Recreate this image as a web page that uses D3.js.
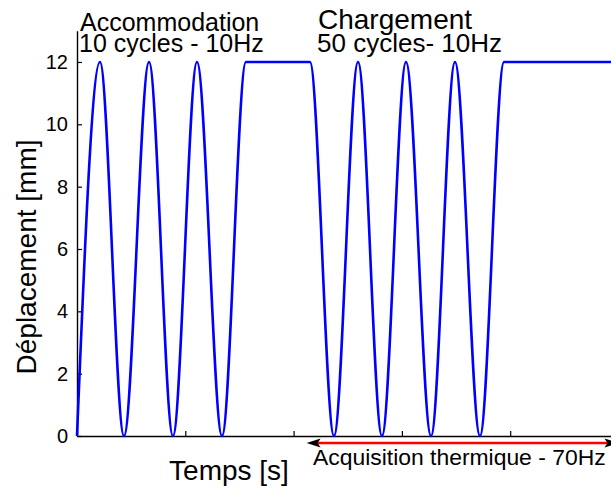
<!DOCTYPE html>
<html><head><meta charset="utf-8">
<script src="https://cdn.jsdelivr.net/npm/d3@7"></script>
<style>body{margin:0;background:#fff}svg{display:block}text{font-family:"Liberation Sans",Arial,sans-serif;fill:#000}</style>
</head><body>
<script>
// Key points of the displacement signal (time in axis units, displacement in mm)
const times = [0, 0.212, 0.434, 0.665, 0.886, 1.108, 1.339, 1.560, 2.151, 2.373, 2.595, 2.816, 3.038, 3.269, 3.490, 3.721, 3.943, 5.3];
const displacement = [0, 12, 0, 12, 0, 12, 0, 12, 12, 0, 12, 0, 12, 0, 12, 0, 12, 12];
const xTicks = [0, 1, 2, 3, 4, 5];
const yTicks = [0, 2, 4, 6, 8, 10, 12];
const arrowSpan = [2.12, 5.0];

const W = 611, H = 490;
const svg = d3.select("body").append("svg").attr("width", W).attr("height", H);
const x = d3.scaleLinear().domain([0, 5]).range([77, 618.5]);
const y = d3.scaleLinear().domain([0, 13]).range([436, 30.8]);

// axes
const yAxis = svg.append("g").attr("transform", "translate(77,0)")
  .call(d3.axisLeft(y).tickValues(yTicks).tickSizeInner(-5).tickSizeOuter(0).tickPadding(9));
const xAxis = svg.append("g").attr("transform", "translate(0,436)")
  .call(d3.axisBottom(x).tickValues(xTicks).tickSizeInner(-5).tickSizeOuter(0).tickFormat(""));
[yAxis, xAxis].forEach(g => {
  g.select(".domain").attr("stroke", "#000").attr("stroke-width", 1.4);
  g.selectAll(".tick line").attr("stroke", "#000").attr("stroke-width", 1.2);
});
yAxis.selectAll(".tick text").style("font-size", "20px").attr("fill", "#000");

// signal
const pts = times.map((t, i) => [t, displacement[i]]);
svg.append("path").datum(pts)
  .attr("fill", "none").attr("stroke", "#0000ff").attr("stroke-width", 2.6)
  .attr("d", d3.line().x(d => x(d[0])).y(d => y(d[1])).curve(d3.curveMonotoneX));

// acquisition arrow
const ay = 443;
svg.append("line").attr("x1", x(arrowSpan[0]) + 8).attr("x2", x(arrowSpan[1]) - 8)
  .attr("y1", ay).attr("y2", ay).attr("stroke", "#ff0000").attr("stroke-width", 2.6);
const head = (tip, dir) => {
  const bx = tip + dir * 14;
  svg.append("path").attr("fill", "#000")
    .attr("d", `M${tip},${ay} L${bx},${ay - 4.5} L${bx - dir * 3},${ay} L${bx},${ay + 4.5} Z`);
};
head(x(arrowSpan[0]), 1);
head(x(arrowSpan[1]), -1);

// texts
svg.append("text").attr("x", 80).attr("y", 31).style("font-size", "25px").text("Accommodation");
svg.append("text").attr("x", 79).attr("y", 52).style("font-size", "25px").text("10 cycles - 10Hz");
svg.append("text").attr("x", 318).attr("y", 29).style("font-size", "28px").text("Chargement");
svg.append("text").attr("x", 317).attr("y", 52).style("font-size", "26px").text("50 cycles- 10Hz");
svg.append("text").attr("x", 313).attr("y", 465).style("font-size", "22.9px").text("Acquisition thermique - 70Hz");
svg.append("text").attr("x", 229).attr("y", 480).attr("text-anchor", "middle").style("font-size", "28px").text("Temps [s]");
svg.append("text").attr("transform", "translate(36,257) rotate(-90)").attr("text-anchor", "middle")
  .style("font-size", "28px").text("Déplacement [mm]");
</script>
</body></html>
